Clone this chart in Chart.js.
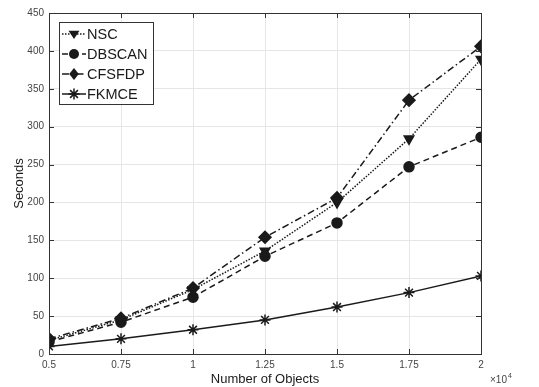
<!DOCTYPE html>
<html lang="en">
<head>
<meta charset="UTF-8">
<title>Seconds vs Number of Objects</title>
<script src="https://cdn.jsdelivr.net/npm/chart.js"></script>
<style>
    body { margin: 0; padding: 0; background: #fff; }
    #wrap { width: 539px; height: 387px; position: relative; }
</style>
</head>
<body>
<div id="wrap"><canvas id="lineChart"></canvas></div>
<script>
    // data (x in units of 10^4 objects)
    const objects = [0.5, 0.75, 1, 1.25, 1.5, 1.75, 2];
    const nscTimes = [18, 45, 85, 136, 200, 284, 389];
    const dbscanTimes = [16, 42, 75, 129, 173, 247, 286];
    const cfsfdpTimes = [20, 47, 87, 154, 206, 335, 406];
    const fkmceTimes = [10, 20, 32, 45, 62, 81, 103];
    const xTicks = [0.5, 0.75, 1, 1.25, 1.5, 1.75, 2];
    const yTicks = [0, 50, 100, 150, 200, 250, 300, 350, 400, 450];

    const seriesNames = ['NSC', 'DBSCAN', 'CFSFDP', 'FKMCE'];
    const seriesData = [nscTimes, dbscanTimes, cfsfdpTimes, fkmceTimes];
    const dashes = [[1.5, 1.5], [6, 4], [7, 3, 1.5, 3], []];
    const markers = ['triangle', 'circle', 'rectRot', 'star'];
    const rotations = [180, 0, 0, 0];
    const radii = [5.5, 5, 6, 5.5];

    const ink = '#1a1a1a';

    const datasets = seriesNames.map((name, i) => ({
        label: name,
        data: objects.map((x, j) => ({ x: x, y: seriesData[i][j] })),
        borderColor: ink,
        backgroundColor: ink,
        borderWidth: 1.5,
        borderDash: dashes[i],
        pointStyle: markers[i],
        rotation: rotations[i],
        pointRadius: radii[i],
        pointBorderWidth: 1.5,
        pointBorderColor: ink,
        pointBackgroundColor: ink,
        tension: 0
    }));

    function drawMarker(ctx, style, x, y, r) {
        ctx.save();
        ctx.fillStyle = ink;
        ctx.strokeStyle = ink;
        ctx.lineWidth = 1.5;
        ctx.setLineDash([]);
        ctx.beginPath();
        if (style === 'triangle') {
            ctx.moveTo(x - r, y - r * 0.6);
            ctx.lineTo(x + r, y - r * 0.6);
            ctx.lineTo(x, y + r * 0.9);
            ctx.closePath();
            ctx.fill();
        } else if (style === 'circle') {
            ctx.arc(x, y, r, 0, Math.PI * 2);
            ctx.fill();
        } else if (style === 'rectRot') {
            ctx.moveTo(x, y - r);
            ctx.lineTo(x + r * 0.8, y);
            ctx.lineTo(x, y + r);
            ctx.lineTo(x - r * 0.8, y);
            ctx.closePath();
            ctx.fill();
        } else {
            for (let a = 0; a < 4; a++) {
                const t = a * Math.PI / 4;
                ctx.moveTo(x - r * Math.cos(t), y - r * Math.sin(t));
                ctx.lineTo(x + r * Math.cos(t), y + r * Math.sin(t));
            }
            ctx.stroke();
        }
        ctx.restore();
    }

    // box around the axes, inward ticks, exponent label and legend
    const matlabLook = {
        id: 'matlabLook',
        afterDraw(chart) {
            const ctx = chart.ctx;
            const a = chart.chartArea;
            const xs = chart.scales.x, ys = chart.scales.y;
            ctx.save();
            ctx.strokeStyle = '#333';
            ctx.lineWidth = 1;
            ctx.setLineDash([]);
            ctx.strokeRect(a.left + 0.5, a.top + 0.5, a.right - a.left, a.bottom - a.top);
            ctx.beginPath();
            xTicks.forEach(t => {
                const px = Math.round(xs.getPixelForValue(t)) + 0.5;
                ctx.moveTo(px, a.bottom); ctx.lineTo(px, a.bottom - 5);
                ctx.moveTo(px, a.top); ctx.lineTo(px, a.top + 5);
            });
            yTicks.forEach(t => {
                const py = Math.round(ys.getPixelForValue(t)) + 0.5;
                ctx.moveTo(a.left, py); ctx.lineTo(a.left + 5, py);
                ctx.moveTo(a.right, py); ctx.lineTo(a.right - 5, py);
            });
            ctx.stroke();

            // x10^4 multiplier
            ctx.fillStyle = '#444';
            ctx.font = '10px "Liberation Sans", Arial, sans-serif';
            ctx.textBaseline = 'alphabetic';
            ctx.fillText('\u00d710', a.right + 9, 383);
            ctx.font = '7px "Liberation Sans", Arial, sans-serif';
            ctx.fillText('4', a.right + 27, 378);

            // legend
            const lx = 59, ly = 22, lw = 94, lh = 82;
            ctx.fillStyle = '#fff';
            ctx.fillRect(lx, ly, lw, lh);
            ctx.strokeStyle = '#333';
            ctx.strokeRect(lx + 0.5, ly + 0.5, lw, lh);
            ctx.font = '14.5px "Liberation Sans", Arial, sans-serif';
            ctx.textBaseline = 'middle';
            seriesNames.forEach((name, i) => {
                const y = ly + 12 + i * 20;
                ctx.strokeStyle = ink;
                ctx.lineWidth = 1.5;
                ctx.setLineDash(dashes[i]);
                ctx.beginPath();
                ctx.moveTo(lx + 3, y);
                ctx.lineTo(lx + 27, y);
                ctx.stroke();
                drawMarker(ctx, markers[i], lx + 15, y, radii[i]);
                ctx.fillStyle = ink;
                ctx.fillText(name, lx + 28, y + 1);
            });
            ctx.restore();
        }
    };

    const ctx = document.getElementById('lineChart').getContext('2d');
    const lineChart = new Chart(ctx, {
        type: 'line',
        data: { datasets: datasets },
        options: {
            responsive: true,
            maintainAspectRatio: false,
            animation: false,
            layout: { padding: { left: 0, right: 58, top: 13, bottom: 0 } },
            plugins: { legend: { display: false }, tooltip: { enabled: false } },
            scales: {
                x: {
                    type: 'linear',
                    min: 0.5,
                    max: 2,
                    afterBuildTicks: s => { s.ticks = xTicks.map(v => ({ value: v })); },
                    afterFit: s => { s.height = 33; },
                    grid: { color: '#e6e6e6', drawTicks: false },
                    border: { display: false },
                    ticks: {
                        color: '#444',
                        padding: 5,
                        font: { family: '"Liberation Sans", Arial, sans-serif', size: 10 },
                        callback: v => String(v)
                    },
                    title: {
                        display: true,
                        text: 'Number of Objects',
                        color: ink,
                        padding: { top: 2, bottom: 0 },
                        font: { family: '"Liberation Sans", Arial, sans-serif', size: 13 }
                    }
                },
                y: {
                    min: 0,
                    max: 450,
                    afterBuildTicks: s => { s.ticks = yTicks.map(v => ({ value: v })); },
                    afterFit: s => { s.width = 49; },
                    grid: { color: '#e6e6e6', drawTicks: false },
                    border: { display: false },
                    ticks: {
                        color: '#444',
                        padding: 5,
                        font: { family: '"Liberation Sans", Arial, sans-serif', size: 10 }
                    },
                    title: {
                        display: true,
                        text: 'Seconds',
                        color: ink,
                        padding: { top: 12, bottom: 0 },
                        font: { family: '"Liberation Sans", Arial, sans-serif', size: 13 }
                    }
                }
            }
        },
        plugins: [matlabLook]
    });
</script>
</body>
</html>
